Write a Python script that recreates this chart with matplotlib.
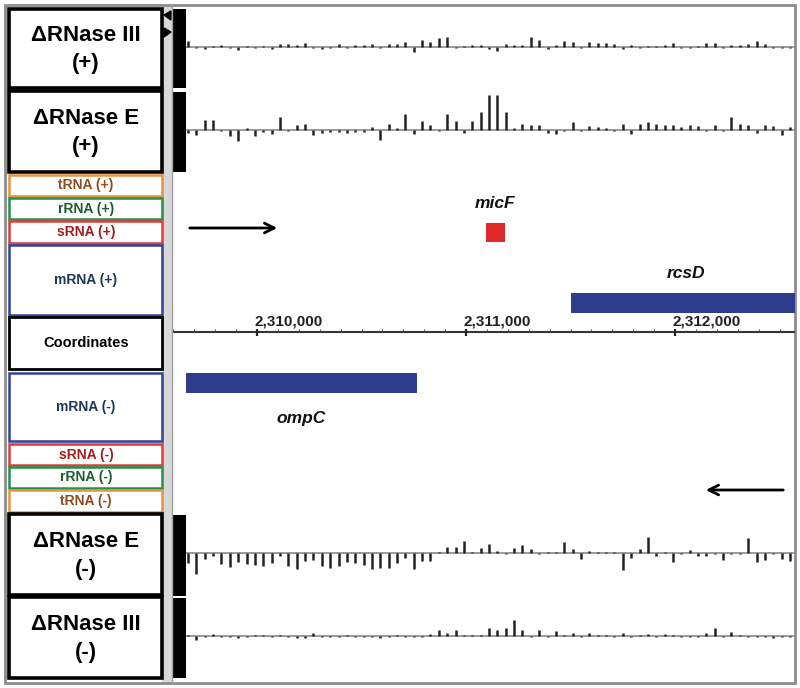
"""Vue type navigateur de génome : couverture dRNase III / dRNase E autour de micF / ompC / rcsD"""

import numpy as np
import matplotlib
matplotlib.use("Agg")
import matplotlib.pyplot as plt
from matplotlib.patches import Rectangle, Polygon

plt.rcParams['font.family'] = ['Liberation Sans', 'DejaVu Sans']

# fenetre genomique affichée
view_start = 2309598
view_end = 2312574

# fenetres de couverture (debut + taille)
bin_start = 2309670
bin_size = 40

# signal par fenetre (hauteur en px, + = brin +, - = sous la ligne)
rnase3_plus = [6, -1, -2, 1, 2, -1, -3, 1, -1, 1, -2, 3, 3, 2, 4, -1, -2, -1, 3, -1,
               2, 2, 3, -1, 3, 3, 5, -5, 7, 5, 9, 10, -1, 1, 2, 2, -2, -4, 3, 2,
               2, 10, 7, -2, 2, 6, 5, -1, 5, 4, 4, 3, -2, 2, -1, 1, 1, 2, 4, -1,
               -1, 1, 4, 4, -1, 2, 2, 3, 6, 3, -1, -1, -1]
rnase_e_plus = [-3, -5, 10, 10, -1, -6, -11, 2, -6, -2, -4, 13, -1, 5, 6, -5, -3, -2, -2, -3,
                -2, -2, 3, -10, 6, 2, 16, -4, 9, 5, -1, 16, 9, -3, 9, 18, 35, 35, 18, 2,
                6, 5, 5, -3, -4, -1, 8, -1, 4, 3, 2, -1, 6, -4, 6, 8, 6, 5, 5, 3,
                5, 4, -1, 5, -1, 13, 6, 5, -3, 5, 4, -5, 3]
rnase_e_minus = [-10, -21, -6, -3, -11, -14, -9, -11, -12, -13, -10, -3, -13, -16, -8, -7, -13, -15, -13, -9,
                 -10, -12, -16, -15, -15, -10, -5, -16, -8, -8, 1, 6, 6, 12, 1, 5, 9, 2, -1, 5,
                 8, 4, -1, 1, 1, 11, 4, -6, 2, 1, 1, 1, -17, -5, 4, 16, -3, 1, -9, -1,
                 3, -3, -3, -1, -7, -1, -1, 15, -9, -7, -1, -6, -8]
rnase3_minus = [1, -4, -1, 2, -1, -1, -2, -1, 1, 1, -1, 1, -1, -2, -2, 3, -1, -1, -1, 1,
                -1, -1, -1, -2, -1, 1, -1, -1, -1, 2, 6, 3, 6, 1, 1, 1, 8, 6, 8, 16,
                6, -1, 6, -1, 5, 1, 3, -1, 3, 1, 1, -1, 3, -1, 1, 2, -1, 2, 1, -1,
                -1, -1, 3, 8, -1, 4, 1, -1, -1, -1, -2, -1, -1]

# annotations
gene_names = ['micF', 'rcsD', 'ompC']
gene_start = [2311095, 2311502, 2309660]
gene_end = [2311187, 2314200, 2310766]
gene_strand = ['+', '+', '-']
gene_type = ['sRNA', 'mRNA', 'mRNA']

coord_ticks = [2310000, 2311000, 2312000]

# panneau de gauche
panel_labels = ['ΔRNase III\n(+)', 'ΔRNase E\n(+)', 'tRNA (+)', 'rRNA (+)', 'sRNA (+)',
                'mRNA (+)', 'Coordinates', 'mRNA (-)', 'sRNA (-)', 'rRNA (-)',
                'tRNA (-)', 'ΔRNase E\n(-)', 'ΔRNase III\n(-)']
panel_kind = ['data', 'data', 'tRNA', 'rRNA', 'sRNA', 'mRNA', 'coord', 'mRNA', 'sRNA',
              'rRNA', 'tRNA', 'data', 'data']

# mise en page (pixels)
row_top = [9, 91, 175, 198, 221, 245, 317, 373, 444, 467, 490, 514, 597]
row_bot = [88, 172, 196, 219, 243, 315, 369, 441, 465, 488, 512, 595, 678]
edge_col = {'data': 'black', 'coord': 'black', 'tRNA': '#e8923c', 'rRNA': '#23914a',
            'sRNA': '#e03a3a', 'mRNA': '#33409c'}
text_col = {'data': 'black', 'coord': 'black', 'tRNA': '#8d4c20', 'rRNA': '#1d5c2c',
            'sRNA': '#a01f1f', 'mRNA': '#1e3758'}
type_row = {('sRNA', '+'): (223, 242), ('mRNA', '+'): (293, 313), ('mRNA', '-'): (373, 393)}
type_col = {'sRNA': '#e02a2a', 'mRNA': '#2e3d8e'}
label_y = {'micF': 203, 'rcsD': 273, 'ompC': 418}

tracks = [(rnase3_plus, 47, 9, 88), (rnase_e_plus, 130, 92, 172),
          (rnase_e_minus, 553, 515, 596), (rnase3_minus, 636, 598, 678)]
axis_y = 332


fig = plt.figure(figsize=(8, 6.88), dpi=100)
bg = fig.add_axes([0, 0, 1, 1])
bg.set_xlim(0, 800)
bg.set_ylim(688, 0)
bg.axis('off')

# cadre + bande grise
bg.add_patch(Rectangle((162, 5), 10, 678, facecolor='#d8d8d8', edgecolor='none'))
bg.plot([172, 172], [5, 683], color='#a0a0a0', lw=1)
bg.add_patch(Rectangle((5, 5), 790, 678, facecolor='none', edgecolor='#8c8c8c', lw=2))
bg.add_patch(Polygon([[171, 11], [164, 15], [171, 20]], color='black'))
bg.add_patch(Polygon([[164, 28], [171, 32], [164, 37]], color='black'))

for lab, kind, t, b in zip(panel_labels, panel_kind, row_top, row_bot):
    lw = 2.6 if kind == 'data' else (2 if kind == 'coord' else 1.8)
    bg.add_patch(Rectangle((9, t), 153, b - t, facecolor='white',
                           edgecolor=edge_col[kind], lw=lw))
    cy = (t + b) / 2
    if kind == 'data':
        l1, l2 = lab.split('\n')
        bg.text(86, cy - 13, l1, ha='center', va='center', fontsize=16,
                weight='bold', color='black')
        bg.text(86, cy + 15, l2, ha='center', va='center', fontsize=16,
                weight='bold', color='black')
    else:
        fs = 10.5 if kind == 'coord' else 10
        bg.text(86, cy, lab, ha='center', va='center', fontsize=fs,
                weight='bold', color=text_col[kind])

# barres noires des pistes
for _, _, t, b in tracks:
    bg.add_patch(Rectangle((173, t), 13, b - t, facecolor='black', edgecolor='none'))

# fleches de brin
bg.annotate('', xy=(280, 228), xytext=(187, 228),
            arrowprops=dict(arrowstyle='->,head_length=0.7,head_width=0.35', lw=2, color='black'))
bg.annotate('', xy=(703, 490), xytext=(786, 490),
            arrowprops=dict(arrowstyle='->,head_length=0.7,head_width=0.35', lw=2, color='black'))

# axes genomiques
ax = fig.add_axes([173 / 800, 0, 622 / 800, 1])
ax.set_xlim(view_start, view_end)
ax.set_ylim(688, 0)
ax.axis('off')
ax.patch.set_alpha(0)

bins = bin_start + bin_size * np.arange(len(rnase3_plus))
for vals, y0, _, _ in tracks:
    ax.hlines(y0, view_start + 60, view_end, color='#8a8a8a', lw=1.2, zorder=1)
    vals = np.array(vals)
    ax.vlines(bins, y0, y0 - vals, color='#222222', lw=1.8, zorder=2)

# coordonnées
ax.hlines(axis_y, view_start, view_end, color='#333333', lw=1.5)
minor = [m for m in range(2309600, view_end, 100) if m not in coord_ticks]
ax.vlines(minor, axis_y - 3, axis_y, color='#555555', lw=0.8)
ax.vlines(coord_ticks, axis_y - 3, axis_y + 4, color='#222222', lw=1.6)
for tk in coord_ticks:
    ax.text(tk - 10, axis_y - 6, f"{tk:,}", ha='left', va='baseline',
            fontsize=11, weight='bold', color='#222222')

# genes
for name, s, e, strand, typ in zip(gene_names, gene_start, gene_end, gene_strand, gene_type):
    y1, y2 = type_row[(typ, strand)]
    s_c, e_c = max(s, view_start), min(e, view_end)
    ax.add_patch(Rectangle((s_c, y1), e_c - s_c, y2 - y1, facecolor=type_col[typ],
                           edgecolor='none'))
    if name == 'rcsD':
        lx = 2312050
    else:
        lx = (s_c + e_c) / 2
    ax.text(lx, label_y[name], name, ha='center', va='center', fontsize=12.5,
            style='italic', weight='bold', color='#111111')

fig.savefig("out.png", dpi=100, facecolor='white')
